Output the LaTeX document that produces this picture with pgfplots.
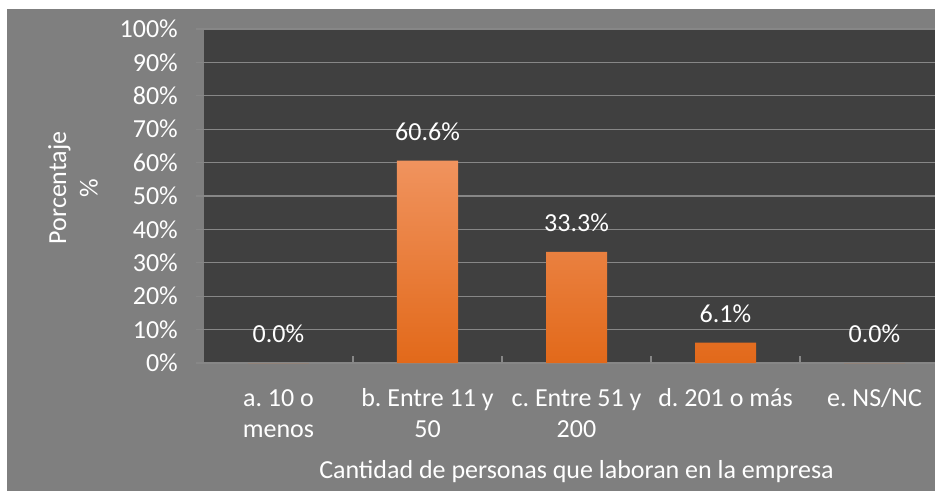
\documentclass[border=0pt]{standalone}
\usepackage{fontspec}
\setmainfont{Carlito}
\usepackage{pgfplots}
\pgfplotsset{compat=1.18}
\definecolor{outerbg}{HTML}{7F7F7F}
\definecolor{plotbg}{HTML}{404040}
\definecolor{gridc}{HTML}{878787}
\definecolor{barTop}{HTML}{F0935E}
\definecolor{barMid}{HTML}{F6862F}
\definecolor{barBot}{HTML}{E2691A}
\newcommand\fs{\fontsize{26}{31.7}\selectfont}
\frenchspacing

\begin{document}
\begin{tikzpicture}[x=1pt,y=1pt]
\useasboundingbox (0,0) rectangle (935,491);
\clip (0,0) rectangle (935,491);
\fill[white] (0,0) rectangle (935,491);
\fill[outerbg] (7,0) rectangle (935,482);
\begin{axis}[
  at={(204pt,128pt)}, anchor=south west,
  scale only axis, width=745pt, height=334pt,
  ybar, bar width=61pt,
  xmin=-0.5, xmax=4.5, ymin=0, ymax=100,
  axis background/.style={fill=plotbg},
  axis line style={draw=none},
  /pgf/number format/assume math mode=true,
  ytick={0,10,...,100},
  yticklabels={0\%,10\%,20\%,30\%,40\%,50\%,60\%,70\%,80\%,90\%,100\%},
  yticklabel style={font=\fs, text=white, anchor=east, inner sep=0pt, xshift=-18pt},
  ymajorgrids, major grid style={gridc, line width=1.3pt},
  tick align=outside, major tick length=8pt,
  major y tick style={gridc, line width=1.3pt},
  major x tick style={draw=none},
  xtick={0,...,4},
  xticklabels={{\strut a. 10 o\\menos},{\strut b. Entre 11 y\\50},{\strut c. Entre 51 y\\200},{\strut d. 201 o más},{\strut e. NS/NC}},
  xticklabel style={font=\fs, text=white, align=center, anchor=north, inner sep=0pt, yshift=-12.8pt},
  xlabel={Cantidad de personas que laboran en la empresa},
  xlabel style={font=\fs, text=white, at={(axis description cs:0.5,-0.3464)}, anchor=base},
  ylabel={Porcentaje\\\%},
  ylabel style={font=\fs, text=white, align=center, at={(axis description cs:-0.1758,0.524)}, anchor=center},
  nodes near coords={\pgfmathprintnumber[fixed,fixed zerofill,precision=1]{\pgfplotspointmeta}\%},
  every node near coord/.append style={font=\fs, text=white, anchor=south, inner sep=0pt, yshift=20pt},
]
\addplot[draw=none, top color=barTop, middle color=barMid, bottom color=barBot]
  coordinates {(0,0) (1,60.6) (2,33.3) (3,6.1) (4,0)};
\draw[gridc, line width=1.3pt] (axis cs:0.5,0) -- (axis cs:0.5,2.2);
\draw[gridc, line width=1.3pt] (axis cs:1.5,0) -- (axis cs:1.5,2.2);
\draw[gridc, line width=1.3pt] (axis cs:2.5,0) -- (axis cs:2.5,2.2);
\draw[gridc, line width=1.3pt] (axis cs:3.5,0) -- (axis cs:3.5,2.2);
\end{axis}
\end{tikzpicture}
\end{document}
